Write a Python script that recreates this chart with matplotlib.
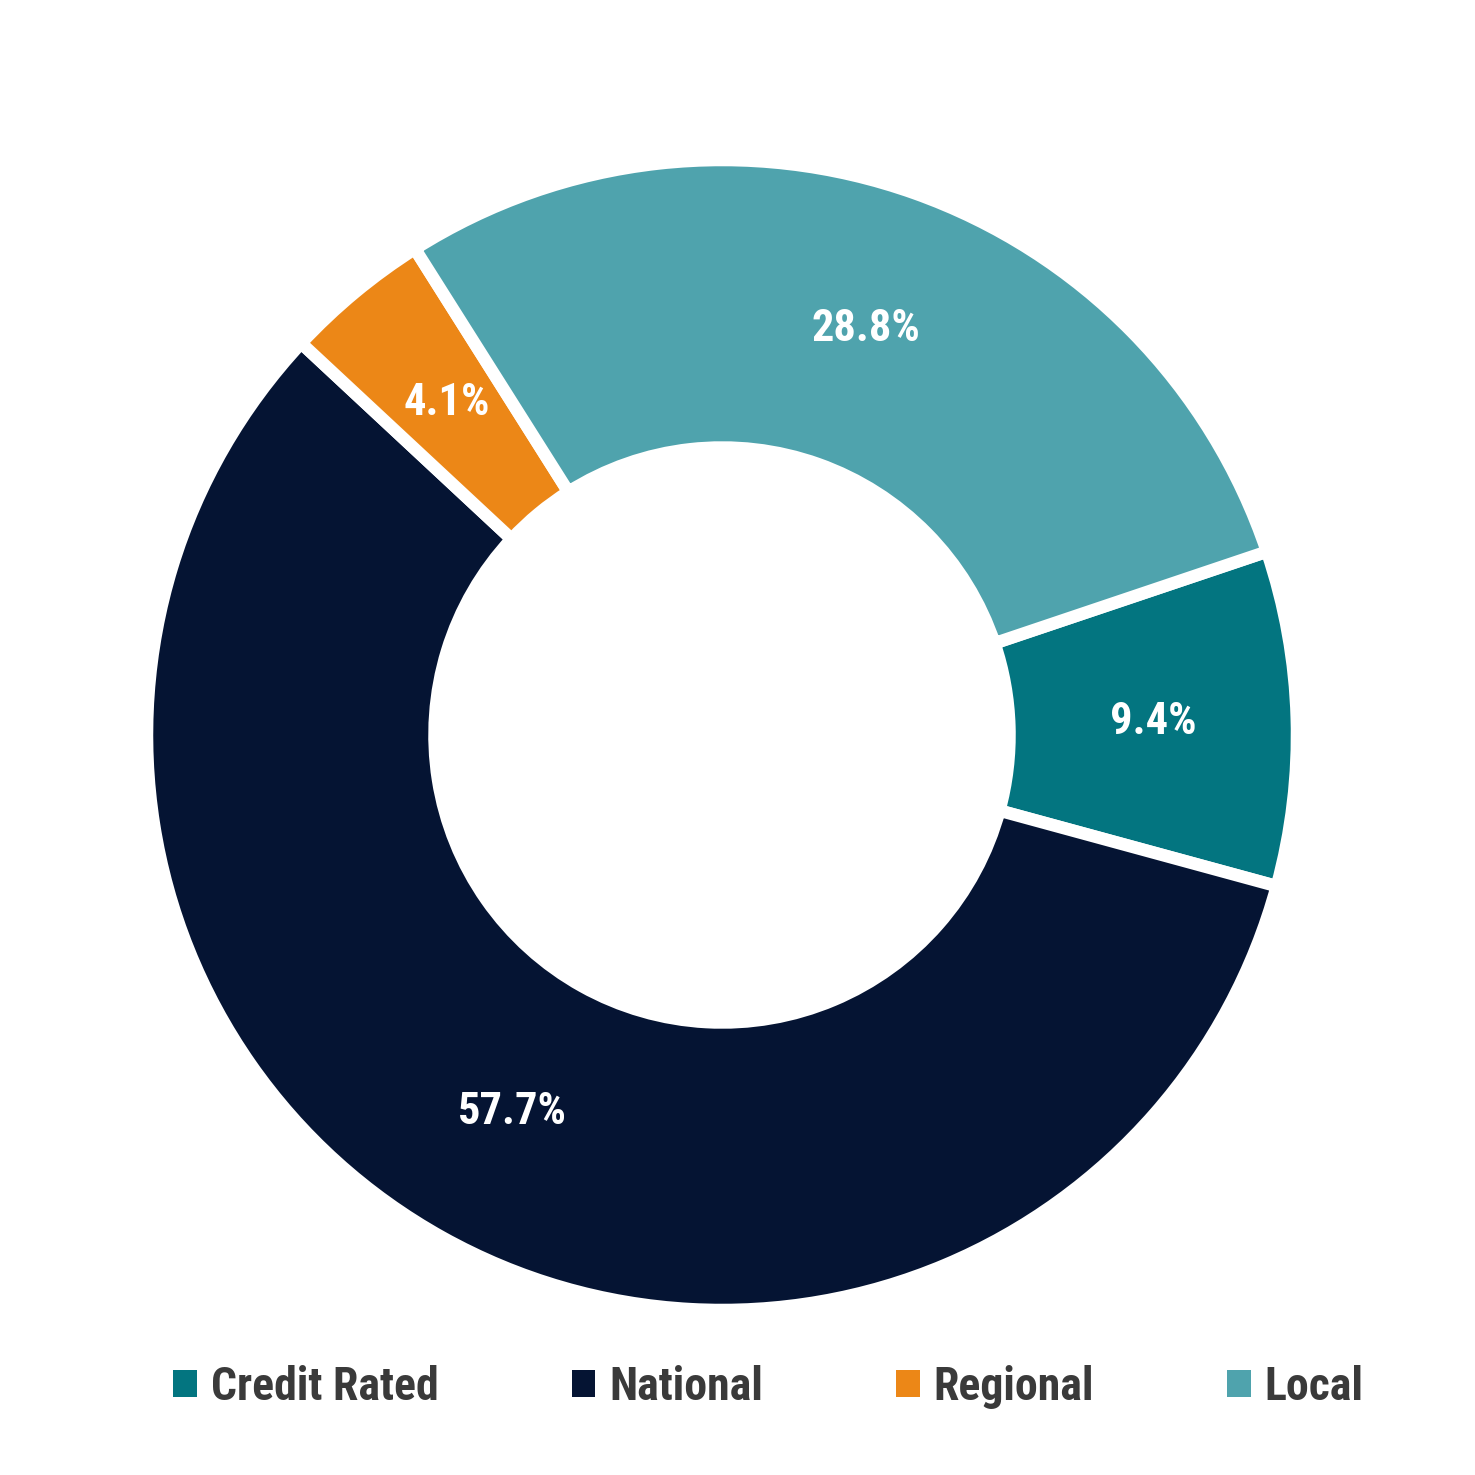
import matplotlib
matplotlib.use("Agg")
import matplotlib.pyplot as plt
from matplotlib import font_manager
from matplotlib.patches import Patch

labels = ["Credit Rated", "National", "Regional", "Local"]
shares = [9.4, 57.7, 4.1, 28.8]
colors = ["#037580", "#051433", "#EC8717", "#4FA3AD"]


def pick_font(names):
    for n in names:
        try:
            font_manager.findfont(font_manager.FontProperties(family=n),
                                  fallback_to_default=False)
            return n
        except ValueError:
            continue
    return "DejaVu Sans"


FONT = pick_font(["Roboto Condensed", "Liberation Sans Narrow", "Open Sans", "Roboto"])
plt.rcParams["font.family"] = [FONT, "DejaVu Sans"]

fig = plt.figure(figsize=(14.75, 14.75), dpi=100)
cx, cy, r = 722 / 1475, 1 - 735 / 1475, 575 / 1475
ax = fig.add_axes([cx - r, cy - r, 2 * r, 2 * r])

wedges, texts, autotexts = ax.pie(
    shares, colors=colors, startangle=18.6, counterclock=False,
    radius=1.0, autopct="%.1f%%", pctdistance=0.75,
    wedgeprops=dict(width=0.5, edgecolor="white", linewidth=9),
    textprops=dict(color="white", fontsize=32, fontweight="bold"),
)
ax.set_xlim(-1, 1)
ax.set_ylim(-1, 1)
ax.set_aspect("equal")
ax.axis("off")

handles = [Patch(facecolor=c, edgecolor="none") for c in colors]
fig.legend(handles, labels, loc="center", bbox_to_anchor=(0.521, 1 - 1387 / 1475),
           ncol=4, frameon=False, handlelength=0.52,
           handleheight=0.52, handletextpad=0.3, columnspacing=2.9,
           labelcolor="#3a3a3a", prop=dict(family=[FONT, "DejaVu Sans"],
                                           weight="bold", size=33))

fig.savefig("out.png", dpi=100, facecolor="white")
